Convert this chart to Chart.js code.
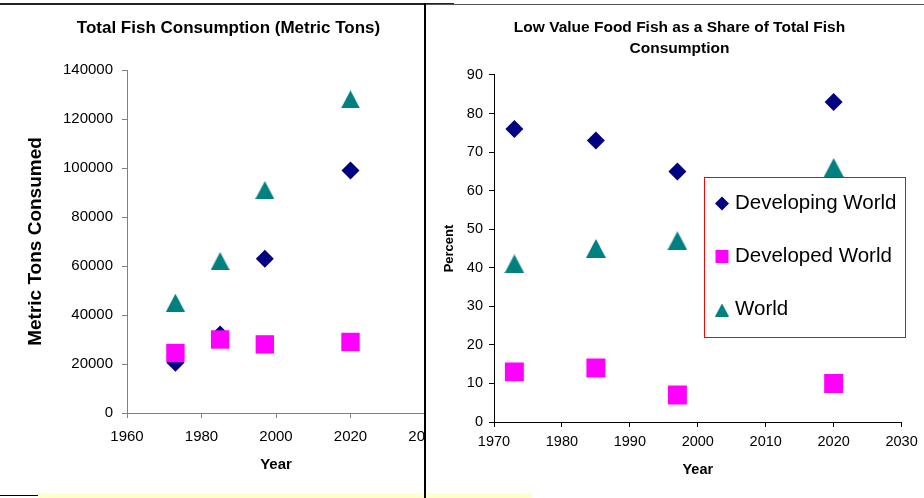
<!DOCTYPE html>
<html>
<head>
<meta charset="utf-8">
<script src="https://cdn.jsdelivr.net/npm/chart.js@4/dist/chart.umd.min.js"></script>
<style>
  html, body { margin: 0; padding: 0; background: #fff; }
  #page { position: relative; width: 924px; height: 498px; overflow: hidden; background: #fff; }
  #tons { position: absolute; left: 0; top: 0; }
  #share { position: absolute; left: 426px; top: 0; background: #fff; }
  .rule { position: absolute; }
</style>
</head>
<body>
<div id="page">
  <canvas id="tons" width="470" height="498"></canvas>
  <canvas id="share" width="498" height="498"></canvas>
  <div class="rule" style="left:0;top:3px;width:454px;height:2px;background:#222"></div>
  <div class="rule" style="left:425px;top:4px;width:499px;height:1px;background:#555"></div>
  <div class="rule" style="left:38px;top:493px;width:494px;height:5px;background:#ffffcc"></div>
  <div class="rule" style="left:0;top:495px;width:38px;height:1px;background:#000"></div>
  <div class="rule" style="left:424px;top:3px;width:2px;height:495px;background:#000"></div>
</div>
<script>
// Survey years shared by both panels
const years = [1973, 1985, 1997, 2020];
const seriesNames = ['Developing World', 'Developed World', 'World'];

// Total fish consumption, metric tons
const tonsDeveloping = [20500, 32000, 63000, 99000];
const tonsDeveloped = [24500, 30000, 28000, 29000];
const tonsWorld = [45000, 62000, 91000, 128000];

// Low value food fish, percent of total consumption
const shareDeveloping = [76, 73, 65, 83];
const shareDeveloped = [13, 14, 7, 10];
const shareWorld = [41, 45, 47, 66];

// Axis ticks
const tonsYearTicks = [1960, 1980, 2000, 2020, 2040];
const tonsTicks = [0, 20000, 40000, 60000, 80000, 100000, 120000, 140000];
const shareYearTicks = [1970, 1980, 1990, 2000, 2010, 2020, 2030];
const shareTicks = [0, 10, 20, 30, 40, 50, 60, 70, 80, 90];

const FONT = "'Liberation Sans', Arial, Helvetica, sans-serif";
const NAVY = '#000080';
const MAGENTA = '#ff00ff';
const TEAL = '#008080';

Chart.defaults.font.family = FONT;
Chart.defaults.color = '#000';

function triangleMarker(w, h, color) {
  const c = document.createElement('canvas');
  c.width = w;
  c.height = h;
  const g = c.getContext('2d');
  g.fillStyle = color;
  g.beginPath();
  g.moveTo(w / 2, 0);
  g.lineTo(w, h);
  g.lineTo(0, h);
  g.closePath();
  g.fill();
  return c;
}

function points(values) {
  return years.map((x, i) => ({ x: x, y: values[i] }));
}

function buildDatasets(dev, devd, world, m) {
  const base = { showLine: false, pointBorderWidth: 0, pointHoverRadius: 0 };
  return [
    Object.assign({}, base, {
      label: seriesNames[0], data: points(dev), order: 2,
      pointStyle: 'rectRot', pointRadius: m.diamond,
      pointBackgroundColor: NAVY, pointBorderColor: NAVY, backgroundColor: NAVY
    }),
    Object.assign({}, base, {
      label: seriesNames[1], data: points(devd), order: 1,
      pointStyle: 'rect', pointRadius: m.square,
      pointBackgroundColor: MAGENTA, pointBorderColor: MAGENTA, backgroundColor: MAGENTA
    }),
    Object.assign({}, base, {
      label: seriesNames[2], data: points(world), order: 0,
      pointStyle: triangleMarker(m.triW, m.triH, TEAL), pointRadius: 10,
      pointBackgroundColor: TEAL, pointBorderColor: TEAL, backgroundColor: TEAL
    })
  ];
}

function fixedTicks(list) {
  return function (scale) { scale.ticks = list.map(v => ({ value: v })); };
}

function axis(o) {
  return {
    type: 'linear',
    min: o.min,
    max: o.max,
    afterBuildTicks: fixedTicks(o.ticks),
    afterFit: o.fit,
    border: { color: o.line, width: 1 },
    grid: { drawOnChartArea: false, drawTicks: true, tickLength: 5, color: o.line, lineWidth: 1 },
    ticks: {
      color: '#000', padding: o.pad, autoSkip: false, maxRotation: 0,
      font: { family: FONT, size: o.tickSize },
      callback: v => String(v)
    },
    title: {
      display: true, text: o.title, color: '#000',
      font: { family: FONT, size: o.titleSize, weight: 'bold', lineHeight: 1.2 },
      padding: o.titlePad
    }
  };
}

// Left panel: total consumption
new Chart(document.getElementById('tons'), {
  type: 'scatter',
  data: { datasets: buildDatasets(tonsDeveloping, tonsDeveloped, tonsWorld, { diamond: 9, square: 13, triW: 19, triH: 18 }) },
  options: {
    responsive: false,
    animation: false,
    devicePixelRatio: 1,
    events: [],
    layout: { padding: { left: 32, right: 45, top: 0, bottom: 0 } },
    plugins: {
      legend: { display: false },
      tooltip: { enabled: false },
      title: {
        display: true, text: 'Total Fish Consumption (Metric Tons)', color: '#000',
        font: { family: FONT, size: 17, weight: 'bold', lineHeight: 1.2 },
        padding: { top: 18.2, bottom: 31.4 }
      }
    },
    scales: {
      x: axis({ min: 1960, max: 2040, ticks: tonsYearTicks, line: '#808080', pad: 10, tickSize: 15,
                title: 'Year', titleSize: 15, titlePad: { top: 0, bottom: 24 },
                fit: s => { s.height = 85; } }),
      y: axis({ min: 0, max: 140000, ticks: tonsTicks, line: '#808080', pad: 9, tickSize: 15,
                title: 'Metric Tons Consumed', titleSize: 19, titlePad: { top: -7.4, bottom: 0 },
                fit: s => { s.width = 95; } })
    }
  }
});

// Legend box drawn inside the plot of the share panel
const legendMarkers = {
  diamond: { pointStyle: 'rectRot', radius: 7 },
  square: { pointStyle: 'rect', radius: 9.2 },
  triangle: { pointStyle: triangleMarker(14, 13, TEAL), radius: 7 }
};
const shareLegend = {
  id: 'shareLegend',
  afterDatasetsDraw(chart) {
    const ctx = chart.ctx;
    const box = { x: 278, y: 177, w: 201, h: 160 };
    ctx.save();
    ctx.fillStyle = '#fff';
    ctx.fillRect(box.x, box.y, box.w, box.h);
    ctx.strokeStyle = '#ff0000';
    ctx.lineWidth = 1;
    ctx.strokeRect(box.x + 0.5, box.y + 0.5, box.w, box.h);
    const kinds = [legendMarkers.diamond, legendMarkers.square, legendMarkers.triangle];
    const rowY = [203.5, 256.5, 310];
    chart.data.datasets.forEach((ds, i) => {
      const k = kinds[i];
      ctx.fillStyle = ds.pointBackgroundColor;
      ctx.strokeStyle = ds.pointBackgroundColor;
      Chart.helpers.drawPoint(ctx, { pointStyle: k.pointStyle, radius: k.radius, rotation: 0, borderWidth: 0 }, 296, rowY[i]);
      ctx.fillStyle = '#000';
      ctx.font = '20.5px ' + FONT;
      ctx.textAlign = 'left';
      ctx.textBaseline = 'middle';
      ctx.fillText(ds.label, 309, rowY[i] - 0.5);
    });
    ctx.restore();
  }
};

// Right panel: low value share
new Chart(document.getElementById('share'), {
  type: 'scatter',
  data: { datasets: buildDatasets(shareDeveloping, shareDeveloped, shareWorld, { diamond: 9, square: 13.4, triW: 20, triH: 19 }) },
  plugins: [shareLegend],
  options: {
    responsive: false,
    animation: false,
    devicePixelRatio: 1,
    events: [],
    layout: { padding: { left: 30, right: 21, top: 0, bottom: 0 } },
    plugins: {
      legend: { display: false },
      tooltip: { enabled: false },
      title: {
        display: true, text: ['Low Value Food Fish as a Share of Total Fish', 'Consumption'], color: '#000',
        font: { family: FONT, size: 15.5, weight: 'bold', lineHeight: 1.335 },
        padding: { top: 17.65, bottom: 15.95 }
      }
    },
    scales: {
      x: axis({ min: 1970, max: 2030, ticks: shareYearTicks, line: '#000', pad: 6.3, tickSize: 14.5,
                title: 'Year', titleSize: 14.5, titlePad: { top: 0, bottom: 19.3 },
                fit: s => { s.height = 76; } }),
      y: axis({ min: 0, max: 90, ticks: shareTicks, line: '#000', pad: 6, tickSize: 14.5,
                title: 'Percent', titleSize: 13, titlePad: { top: -14.3, bottom: 0 },
                fit: s => { s.width = 38; } })
    }
  }
});
</script>
</body>
</html>
